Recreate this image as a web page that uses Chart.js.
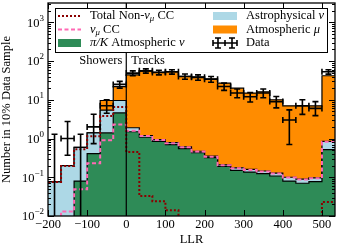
<!DOCTYPE html>
<html>
<head>
<meta charset="utf-8">
<script src="https://cdn.jsdelivr.net/npm/chart.js@4.4.1/dist/chart.umd.min.js"></script>
<style>
  html, body { margin: 0; padding: 0; background: #fff; }
  #wrap { width: 339px; height: 245px; position: relative; }
</style>
</head>
<body>
<div id="wrap"><canvas id="llrChart"></canvas></div>
<script>
// LLR distribution, stacked MC + 10% data sample

const binEdges = [-200, -166.67, -133.33, -100, -66.67, -33.33, 0, 33.33, 66.67, 100, 133.33,
  166.67, 200, 233.33, 266.67, 300, 333.33, 366.67, 400, 433.33, 466.67, 500, 533.33];

// stacked components (per bin)
const piKAtmNu = [0.002, 0.003, 0.08, 0.41, 1.4, 4.6, 1.5, 1.08, 0.85, 0.70, 0.55, 0.43, 0.32,
  0.19, 0.15, 0.136, 0.124, 0.108, 0.08, 0.07, 0.077, 0.52];
const astroNu = [0.074, 0.197, 0.51, 0.99, 4.0, 5.0, 0.4, 0.12, 0.09, 0.08, 0.06, 0.04, 0.03,
  0.02, 0.025, 0.024, 0.021, 0.02, 0.02, 0.02, 0.02, 0.33];
const atmMu = [0, 0, 0, 0, 4.2, 12.4, 42, 54, 50, 52, 40, 38.5, 34.6, 26.8, 19.8, 14.8, 15.9,
  9.9, 6.9, 6.9, 6.9, 41];

// overlay lines
const nonNumuCC = [0.076, 0.195, 0.53, 1.15, 3.8, 6.5, 0.45, 0.033, 0.024, 0.014, 0.005, 0.005,
  0.005, 0.005, 0.005, 0.005, 0.005, 0.005, 0.005, 0.005, 0.005, 0.023];
const numuCC = [0.003, 0.013, 0.049, 0.23, 0.9, 2.3, 1.6, 1.17, 0.92, 0.76, 0.6, 0.46, 0.34,
  0.205, 0.17, 0.155, 0.14, 0.125, 0.098, 0.088, 0.095, 0.83];

// data (10% sample) with error bar ends
const dataCounts = [0, 1, 0, 2, 7, 25, 49, 56, 51, 53, 40, 38, 34, 22, 15, 12, 15, 9, 3, 7, 6, 53];
const dataLow = [0.001, 0.37, 0.001, 0.74, 4.5, 20, 42, 49, 44, 46, 34, 32, 28.5, 17.5, 11.3,
  8.8, 11.3, 6.2, 0.7, 4.2, 3.9, 46];
const dataHigh = [1.29, 2.75, 1.29, 4.25, 10, 30, 56, 63, 58, 60, 46.5, 44, 40, 27, 19, 15.5,
  19, 12.2, 5.5, 10, 9, 60];

const xTicks = [-200, -100, 0, 100, 200, 300, 400, 500];
const xTickLabels = ['\u2212200', '\u2212100', '0', '100', '200', '300', '400', '500'];
const yTicks = [0.01, 0.1, 1, 10, 100, 1000];
const yTickExps = ['\u22122', '\u22121', '0', '1', '2', '3'];

const FONT = '"Liberation Serif", "DejaVu Serif", serif';
const GREEN = '#2e8b57';
const BLUE = '#add8e6';
const ORANGE = '#ff8c00';
const DARKRED = '#8b0000';
const PINK = '#ff69b4';

const nuTotal = piKAtmNu.map((v, i) => v + astroNu[i]);
const mcTotal = nuTotal.map((v, i) => v + atmMu[i]);

function steps(values) {
  const pts = values.map((v, i) => ({ x: binEdges[i], y: v }));
  pts.push({ x: binEdges[binEdges.length - 1], y: values[values.length - 1] });
  return pts;
}

function drawRich(ctx, parts, x, y, size) {
  parts.forEach((p) => {
    const s = p.sub ? size * 0.7 : size;
    ctx.font = (p.it ? 'italic ' : '') + s + 'px ' + FONT;
    ctx.fillText(p.t, x, y + (p.sub ? size * 0.25 : 0));
    x += ctx.measureText(p.t).width;
  });
}

const dataBarsPlugin = {
  id: 'dataBars',
  afterDatasetsDraw(chart) {
    const { ctx, chartArea: a } = chart;
    const xs = chart.scales.x;
    const ys = chart.scales.y;
    const cap = 3;

    ctx.save();
    ctx.beginPath();
    ctx.rect(a.left, a.top, a.right - a.left, a.bottom - a.top);
    ctx.clip();

    // LLR = 0 separator
    ctx.strokeStyle = '#000';
    ctx.lineWidth = 1.2;
    ctx.beginPath();
    ctx.moveTo(xs.getPixelForValue(0), a.top);
    ctx.lineTo(xs.getPixelForValue(0), a.bottom);
    ctx.stroke();

    ctx.lineWidth = 1.6;
    dataCounts.forEach((n, i) => {
      const x0 = xs.getPixelForValue(binEdges[i]);
      const x1 = xs.getPixelForValue(binEdges[i + 1]);
      const xc = (x0 + x1) / 2;
      const yLo = ys.getPixelForValue(dataLow[i]);
      const yHi = ys.getPixelForValue(dataHigh[i]);
      ctx.beginPath();
      ctx.moveTo(xc, yLo);
      ctx.lineTo(xc, yHi);
      ctx.moveTo(xc - cap, yHi);
      ctx.lineTo(xc + cap, yHi);
      ctx.moveTo(xc - cap, yLo);
      ctx.lineTo(xc + cap, yLo);
      if (n > 0) {
        const yc = ys.getPixelForValue(n);
        ctx.moveTo(x0, yc);
        ctx.lineTo(x1, yc);
        ctx.moveTo(x0, yc - cap);
        ctx.lineTo(x0, yc + cap);
        ctx.moveTo(x1, yc - cap);
        ctx.lineTo(x1, yc + cap);
      }
      ctx.stroke();
    });
    ctx.restore();
  },
};

const axesPlugin = {
  id: 'axesFrame',
  afterDraw(chart) {
    const { ctx, chartArea: a } = chart;
    const xs = chart.scales.x;
    const ys = chart.scales.y;
    ctx.save();
    ctx.strokeStyle = '#000';
    ctx.fillStyle = '#000';
    ctx.lineWidth = 1;

    // inward ticks
    ctx.beginPath();
    xTicks.forEach((v) => {
      const x = Math.round(xs.getPixelForValue(v)) + 0.5;
      ctx.moveTo(x, a.bottom);
      ctx.lineTo(x, a.bottom - 6);
      ctx.moveTo(x, a.top);
      ctx.lineTo(x, a.top + 6);
    });
    for (let d = -2; d <= 3; d++) {
      for (let k = 1; k <= 9; k++) {
        const v = k * Math.pow(10, d);
        if (v > ys.max) continue;
        const y = Math.round(ys.getPixelForValue(v)) + 0.5;
        const len = k === 1 ? 6 : 3;
        ctx.moveTo(a.left, y);
        ctx.lineTo(a.left + len, y);
        ctx.moveTo(a.right, y);
        ctx.lineTo(a.right - len, y);
      }
    }
    ctx.stroke();

    // frame
    ctx.lineWidth = 1.3;
    ctx.strokeRect(a.left, a.top, a.right - a.left, a.bottom - a.top);

    // tick labels
    ctx.textBaseline = 'middle';
    ctx.textAlign = 'center';
    ctx.font = '12.5px ' + FONT;
    xTicks.forEach((v, i) => {
      ctx.fillText(xTickLabels[i], xs.getPixelForValue(v), a.bottom + 9);
    });
    yTicks.forEach((v, i) => {
      const y = ys.getPixelForValue(v);
      ctx.textAlign = 'right';
      ctx.font = '9px ' + FONT;
      const ew = ctx.measureText(yTickExps[i]).width;
      ctx.fillText(yTickExps[i], a.left - 4, y - 4);
      ctx.font = '12.5px ' + FONT;
      ctx.fillText('10', a.left - 4 - ew, y + 1);
    });

    // axis titles
    ctx.textAlign = 'center';
    ctx.font = '12.5px ' + FONT;
    ctx.fillText('LLR', (a.left + a.right) / 2, 240);
    ctx.save();
    ctx.translate(7, (a.top + a.bottom) / 2);
    ctx.rotate(-Math.PI / 2);
    ctx.fillText('Number in 10% Data Sample', 0, 0);
    ctx.restore();

    // region labels
    const x0 = xs.getPixelForValue(0);
    ctx.textAlign = 'right';
    ctx.fillText('Showers', x0 - 4, 61);
    ctx.textAlign = 'left';
    ctx.fillText('Tracks', x0 + 5, 61);

    // legend
    const L = { left: 55, top: 8, right: 327, bottom: 52 };
    ctx.fillStyle = '#fff';
    ctx.fillRect(L.left, L.top, L.right - L.left, L.bottom - L.top);
    ctx.lineWidth = 1;
    ctx.strokeStyle = '#000';
    ctx.strokeRect(L.left + 0.5, L.top + 0.5, L.right - L.left, L.bottom - L.top);
    const rows = [16, 29.5, 43];
    const c1 = { sx: 58, sw: 23, tx: 90 };
    const c2 = { sx: 213, sw: 24, tx: 246 };

    ctx.lineWidth = 2;
    ctx.strokeStyle = DARKRED;
    ctx.setLineDash([2, 2]);
    ctx.beginPath();
    ctx.moveTo(c1.sx, rows[0]);
    ctx.lineTo(c1.sx + c1.sw, rows[0]);
    ctx.stroke();
    ctx.strokeStyle = PINK;
    ctx.setLineDash([4, 2.5]);
    ctx.beginPath();
    ctx.moveTo(c1.sx, rows[1]);
    ctx.lineTo(c1.sx + c1.sw, rows[1]);
    ctx.stroke();
    ctx.setLineDash([]);

    const patch = (c, y, color) => {
      ctx.fillStyle = color;
      ctx.fillRect(c.sx, y - 4, c.sw, 8);
    };
    patch(c1, rows[2], GREEN);
    patch(c2, rows[0], BLUE);
    patch(c2, rows[1], ORANGE);

    // data legend marker
    ctx.strokeStyle = '#000';
    ctx.lineWidth = 1.6;
    ctx.beginPath();
    ctx.moveTo(c2.sx, rows[2]);
    ctx.lineTo(c2.sx + c2.sw, rows[2]);
    [c2.sx, c2.sx + c2.sw / 2, c2.sx + c2.sw].forEach((x) => {
      ctx.moveTo(x, rows[2] - 3);
      ctx.lineTo(x, rows[2] + 3);
    });
    [c2.sx + 5, c2.sx + c2.sw - 5].forEach((x) => {
      ctx.moveTo(x, rows[2] - 5);
      ctx.lineTo(x, rows[2] + 5);
      ctx.moveTo(x - 3, rows[2] - 5);
      ctx.lineTo(x + 3, rows[2] - 5);
      ctx.moveTo(x - 3, rows[2] + 5);
      ctx.lineTo(x + 3, rows[2] + 5);
    });
    ctx.stroke();

    ctx.fillStyle = '#000';
    ctx.textAlign = 'left';
    ctx.textBaseline = 'middle';
    const fs = 12.5;
    drawRich(ctx, [{ t: 'Total Non-' }, { t: '\u03bd', it: true }, { t: '\u03bc', it: true, sub: true }, { t: ' CC' }], c1.tx, rows[0], fs);
    drawRich(ctx, [{ t: '\u03bd', it: true }, { t: '\u03bc', it: true, sub: true }, { t: ' CC' }], c1.tx, rows[1], fs);
    drawRich(ctx, [{ t: '\u03c0/K', it: true }, { t: ' Atmospheric ' }, { t: '\u03bd', it: true }], c1.tx, rows[2], fs);
    drawRich(ctx, [{ t: 'Astrophysical ' }, { t: '\u03bd', it: true }], c2.tx, rows[0], fs);
    drawRich(ctx, [{ t: 'Atmospheric ' }, { t: '\u03bc', it: true }], c2.tx, rows[1], fs);
    drawRich(ctx, [{ t: 'Data' }], c2.tx, rows[2], fs);

    ctx.restore();
  },
};

const stepLine = (label, values, extra) => Object.assign({
  label: label,
  data: steps(values),
  stepped: 'before',
  pointRadius: 0,
  borderColor: '#000',
  borderWidth: 1.2,
  fill: false,
}, extra);

new Chart(document.getElementById('llrChart'), {
  type: 'line',
  data: {
    datasets: [
      stepLine('Total Non-\u03bd\u03bc CC', nonNumuCC, { borderColor: DARKRED, borderWidth: 2, borderDash: [2, 2] }),
      stepLine('\u03bd\u03bc CC', numuCC, { borderColor: PINK, borderWidth: 2, borderDash: [4, 2.5] }),
      stepLine('\u03c0/K Atmospheric \u03bd', piKAtmNu, { fill: 'start', backgroundColor: GREEN }),
      stepLine('Astrophysical \u03bd', nuTotal, { fill: 'start', backgroundColor: BLUE }),
      stepLine('Atmospheric \u03bc', mcTotal, { fill: 'start', backgroundColor: ORANGE }),
    ],
  },
  options: {
    responsive: true,
    maintainAspectRatio: false,
    animation: false,
    layout: { padding: { left: 48, right: 4, top: 3, bottom: 29 } },
    plugins: {
      legend: { display: false },
      tooltip: { enabled: false },
    },
    scales: {
      x: { type: 'linear', min: -200, max: 533.33, display: false },
      y: { type: 'logarithmic', min: 0.01, max: 3162, display: false },
    },
  },
  plugins: [dataBarsPlugin, axesPlugin],
});
</script>
</body>
</html>
